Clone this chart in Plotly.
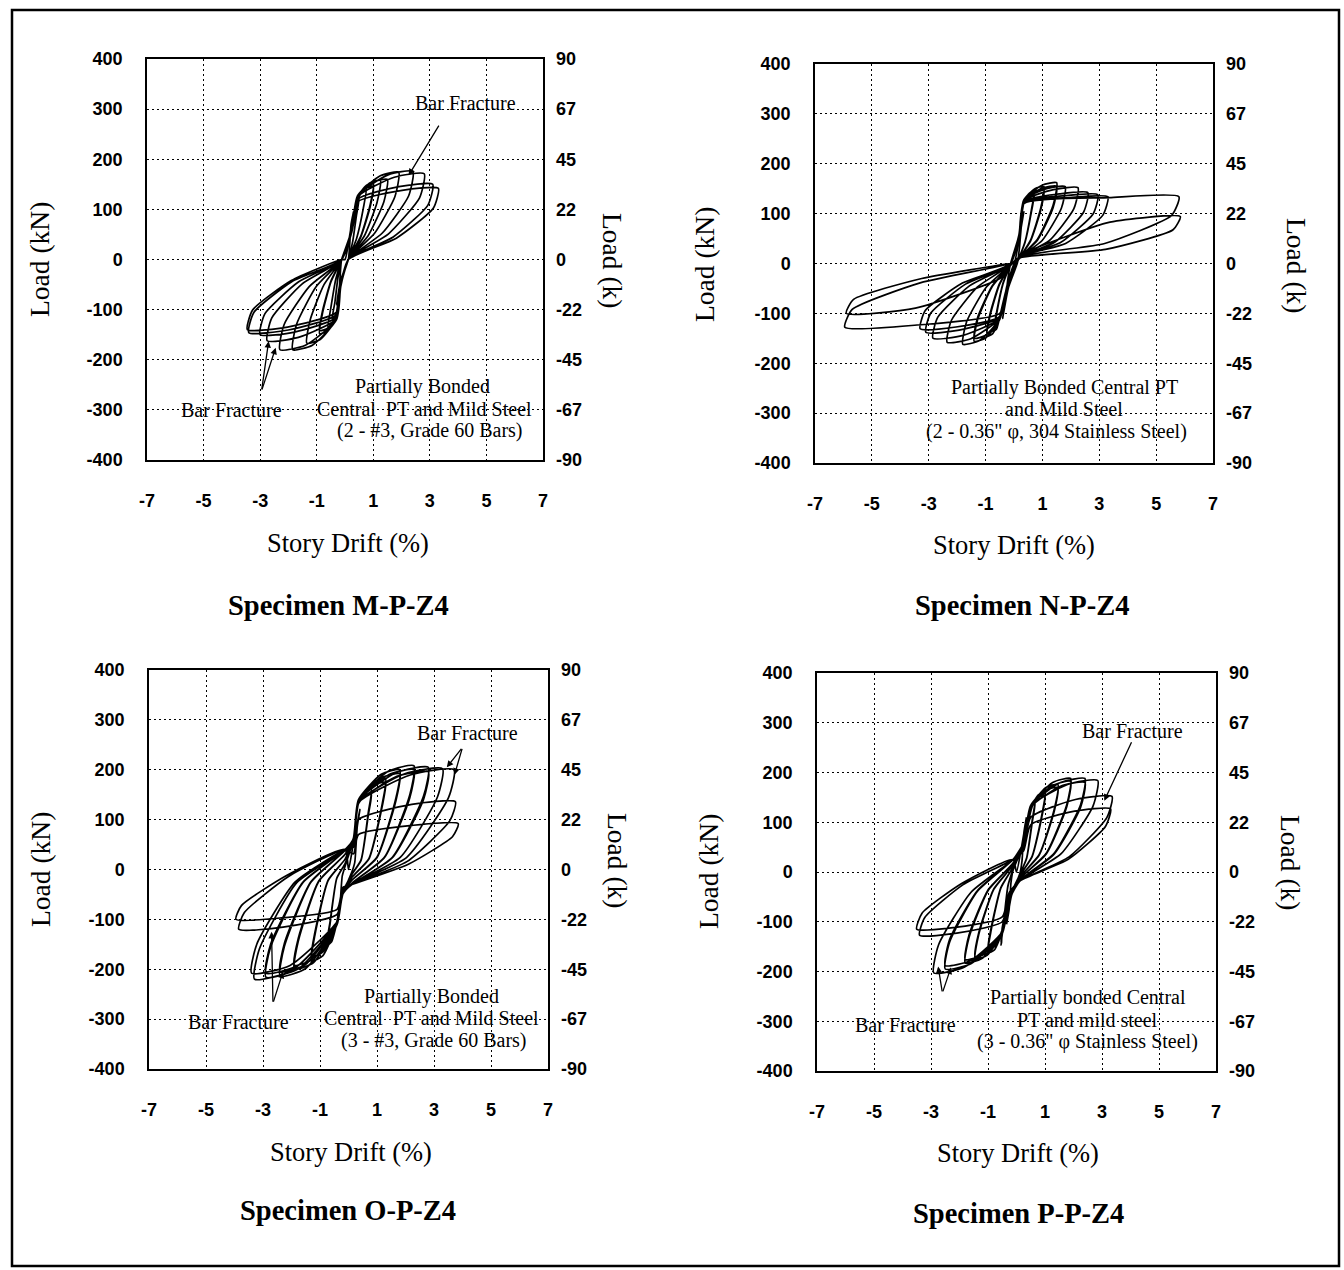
import plotly.graph_objects as go

# ---------------------------------------------------------------- data
DRIFT_TICKS = [-7, -5, -3, -1, 1, 3, 5, 7]
DRIFT_LABELS = ["-7", "-5", "-3", "-1", "1", "3", "5", "7"]
LOAD_TICKS = [-400, -300, -200, -100, 0, 100, 200, 300, 400]
LOAD_LABELS = ["-400", "-300", "-200", "-100", "0", "100", "200", "300", "400"]
KIP_LABELS = ["-90", "-67", "-45", "-22", "0", "22", "45", "67", "90"]

SPECIMENS = ["M-P-Z4", "N-P-Z4", "O-P-Z4", "P-P-Z4"]

# cycle peaks: story drift (%) and load (kN) for each half cycle,
# plus the load at the end of the stiff (gap-closing) branch
M_drift_pos = [0.3, 0.5, 0.75, 1.0, 1.0, 1.25, 1.5, 1.9, 2.4, 2.8, 3.1, 3.3]
M_load_pos = [95, 122, 142, 152, 146, 158, 160, 174, 176, 171, 150, 142]
M_knee_pos = [110, 115, 120, 125, 122, 126, 125, 128, 128, 125, 120, 115]
M_drift_neg = [-0.3, -0.45, -0.6, -0.9, -0.9, -1.35, -1.85, -2.3, -2.75, -3.0, -3.4, -3.45]
M_load_neg = [-90, -118, -135, -148, -142, -167, -180, -180, -162, -150, -146, -140]
M_knee_neg = [-100, -105, -112, -115, -112, -118, -120, -120, -118, -115, -110, -105]

N_drift_pos = [0.35, 0.7, 0.7, 1.05, 1.05, 1.5, 1.5, 1.8, 2.25, 2.6, 2.95, 3.3, 5.8, 5.85]
N_load_pos = [105, 144, 138, 154, 148, 162, 155, 154, 152, 142, 138, 134, 134, 94]
N_knee_pos = [115, 125, 122, 128, 125, 128, 126, 128, 126, 125, 124, 122, 120, 20]
N_drift_neg = [-0.4, -0.7, -0.7, -0.95, -0.95, -1.4, -1.4, -1.8, -2.35, -2.85, -3.1, -3.3, -5.95, -5.9]
N_load_neg = [-110, -135, -130, -146, -140, -156, -150, -162, -158, -150, -138, -131, -128, -100]
N_knee_neg = [-115, -108, -106, -110, -108, -112, -110, -112, -110, -110, -108, -106, -100, -30]

O_drift_pos = [0.4, 0.8, 0.8, 1.3, 1.3, 1.8, 1.8, 2.3, 2.3, 2.8, 2.8, 3.3, 3.7, 3.75, 3.85]
O_load_pos = [120, 160, 152, 182, 175, 200, 192, 208, 200, 205, 196, 202, 200, 136, 92]
O_knee_pos = [130, 135, 132, 138, 135, 140, 136, 140, 136, 138, 134, 136, 134, 100, 70]
O_drift_neg = [-0.4, -0.75, -0.75, -1.3, -1.3, -1.9, -1.9, -2.4, -2.4, -2.9, -2.9, -3.3, -3.4, -3.85, -3.95]
O_load_neg = [-110, -152, -146, -184, -176, -200, -192, -214, -205, -216, -208, -220, -208, -120, -100]
O_knee_neg = [-115, -105, -102, -108, -105, -110, -106, -110, -106, -108, -104, -106, -104, -90, -80]

P_drift_pos = [0.35, 0.65, 0.65, 1.0, 1.0, 1.45, 1.45, 1.9, 1.9, 2.4, 2.4, 2.85, 3.35, 3.3]
P_load_pos = [110, 144, 138, 160, 154, 176, 170, 188, 182, 188, 180, 184, 152, 127]
P_knee_pos = [115, 125, 122, 130, 127, 132, 130, 134, 130, 134, 130, 132, 110, 95]
P_drift_neg = [-0.35, -0.55, -0.55, -1.0, -1.0, -1.45, -1.45, -1.8, -1.8, -2.5, -2.5, -2.9, -3.4, -3.5]
P_load_neg = [-105, -147, -140, -163, -156, -175, -170, -183, -176, -195, -188, -203, -127, -115]
P_knee_neg = [-110, -115, -112, -120, -116, -122, -120, -124, -120, -124, -120, -122, -100, -90]

# drift at end of stiff branch (pos, neg), load where unloading returns near
# zero drift (pos, neg), and relative load half way down the unloading branch
M_shape = dict(knee_drift=(0.45, -0.3), zero_load=(0, 0), unload=0.3)
N_shape = dict(knee_drift=(0.35, -0.5), zero_load=(10, 0), unload=0.3)
O_shape = dict(knee_drift=(0.35, -0.4), zero_load=(-30, 40), unload=0.12)
P_shape = dict(knee_drift=(0.5, -0.5), zero_load=(-18, 25), unload=0.2)

NOTES = {
    "M-P-Z4": ["Partially Bonded", "Central  PT and Mild Steel", "(2 - #3, Grade 60 Bars)"],
    "N-P-Z4": ["Partially Bonded Central PT", "and Mild Steel", "(2 - 0.36\" \u03c6, 304 Stainless Steel)"],
    "O-P-Z4": ["Partially Bonded", "Central  PT and Mild Steel", "(3 - #3, Grade 60 Bars)"],
    "P-P-Z4": ["Partially bonded Central", "PT and mild steel", "(3 - 0.36\" \u03c6 Stainless Steel)"],
}
FRACTURE_LABEL = "Bar Fracture"

# ---------------------------------------------------------------- layout
W, H = 1344, 1270
SERIF = "Liberation Serif, Times New Roman, serif"
SANS = "Liberation Sans, Arial, sans-serif"


def fx(px):
    return px / W


def fy(py):
    return 1 - py / H


# plot areas in pixels: left, right, top, bottom
BOXES = [(147, 543, 59, 460), (815, 1213, 64, 463), (149, 548, 670, 1069), (817, 1216, 673, 1071)]

# title / axis-title anchor pixels per panel
TITLE_POS = [(338, 605), (1022, 605), (348, 1210), (1018, 1213)]
XTITLE_POS = [(348, 543), (1014, 545), (351, 1152), (1018, 1153)]
YTITLE_POS = [(40, 260), (705, 265), (40, 870), (708, 872)]
Y2TITLE_POS = [(612, 260), (1296, 265), (618, 860), (1290, 862)]

# note-line positions (drift, load) per panel
NOTE_POS = {
    "M-P-Z4": [(2.75, -254), (2.8, -298), (3.0, -342)],
    "N-P-Z4": [(1.76, -248), (1.76, -292), (1.5, -336)],
    "O-P-Z4": [(2.9, -254), (2.9, -298), (3.0, -342)],
    "P-P-Z4": [(2.5, -253), (2.5, -297), (2.5, -341)],
}
FRACTURE_TEXT_POS = {
    "M-P-Z4": [(4.27, 312), (-4.0, -300)],
    "N-P-Z4": [],
    "O-P-Z4": [(4.19, 273), (-3.87, -305)],
    "P-P-Z4": [(4.06, 283), (-3.9, -307)],
}
# arrows: head (drift, load) and tail (drift, load)
FRACTURE_ARROWS = {
    "M-P-Z4": [(2.25, 168, 3.35, 270), (-2.7, -163, -2.95, -262), (-2.45, -176, -2.95, -262)],
    "N-P-Z4": [],
    "O-P-Z4": [(3.72, 190, 4.0, 245), (3.45, 205, 4.0, 245),
               (-2.7, -125, -2.65, -268), (-2.3, -205, -2.65, -268)],
    "P-P-Z4": [(3.08, 143, 4.06, 264), (-2.3, -192, -2.6, -243), (-2.75, -190, -2.6, -243)],
}


def hysteresis(dpos, ppos, kpos, dneg, pneg, kneg, shape):
    """Chain the cycles into one continuous load-drift record."""
    kdp, kdn = shape["knee_drift"]
    zp, zn = shape["zero_load"]
    um = shape["unload"]
    pts = [(0.0, 0.0)]
    for dp, pp, kp, dn, pn, kn in zip(dpos, ppos, kpos, dneg, pneg, kneg):
        # push in the positive direction
        if pp > kp:
            pts += [(kdp * 0.5, kp * 0.45), (kdp, kp),
                    (kdp + 0.55 * (dp - kdp), kp + 0.85 * (pp - kp))]
        else:
            pts.append((min(kdp, dp) * 0.5, pp * 0.45))
        du = 0.08 + 0.03 * dp
        pts += [(dp, pp), (dp - du, 0.72 * pp), (0.55 * dp, um * pp),
                (0.12, zp * min(1.0, dp / 2.5))]
        # pull in the negative direction
        if pn < kn:
            pts += [(kdn * 0.5, kn * 0.45), (kdn, kn),
                    (kdn + 0.55 * (dn - kdn), kn + 0.85 * (pn - kn))]
        else:
            pts.append((max(kdn, dn) * 0.5, pn * 0.45))
        du = 0.08 + 0.03 * abs(dn)
        pts += [(dn, pn), (dn + du, 0.72 * pn), (0.55 * dn, um * pn),
                (-0.12, zn * min(1.0, abs(dn) / 2.5))]
    pts.append((0.0, 0.0))
    return [p[0] for p in pts], [p[1] for p in pts]


records = {
    "M-P-Z4": hysteresis(M_drift_pos, M_load_pos, M_knee_pos, M_drift_neg, M_load_neg, M_knee_neg, M_shape),
    "N-P-Z4": hysteresis(N_drift_pos, N_load_pos, N_knee_pos, N_drift_neg, N_load_neg, N_knee_neg, N_shape),
    "O-P-Z4": hysteresis(O_drift_pos, O_load_pos, O_knee_pos, O_drift_neg, O_load_neg, O_knee_neg, O_shape),
    "P-P-Z4": hysteresis(P_drift_pos, P_load_pos, P_knee_pos, P_drift_neg, P_load_neg, P_knee_neg, P_shape),
}

fig = go.Figure()
annotations = []
layout = dict(
    width=W, height=H, margin=dict(l=0, r=0, t=0, b=0, autoexpand=False),
    paper_bgcolor="white", plot_bgcolor="white", showlegend=False,
    hovermode=False,
)

tickfont = dict(family=SANS, size=18, color="black", weight="bold")
note_font = dict(family=SERIF, size=20, color="black")


def paper_text(px, py, text, size, bold=False, angle=0):
    return dict(x=fx(px), y=fy(py), xref="paper", yref="paper",
                xanchor="center", yanchor="middle", textangle=angle,
                text=f"<b>{text}</b>" if bold else text, showarrow=False,
                font=dict(family=SERIF, size=size, color="black"))


for i, name in enumerate(SPECIMENS):
    n = i + 1
    xa, ya, y2 = f"x{n}", f"y{n}", f"y{n + 4}"
    xk, yk, y2k = f"xaxis{n}", f"yaxis{n}", f"yaxis{n + 4}"
    l, r, t, b = BOXES[i]
    layout[xk] = dict(
        domain=[fx(l), fx(r)], anchor=ya, range=[-7, 7], automargin=False,
        tickvals=DRIFT_TICKS, ticktext=DRIFT_LABELS, ticks="",
        ticklabelstandoff=24, tickfont=tickfont,
        showgrid=True, gridcolor="black", gridwidth=1, griddash="2px,3px",
        zeroline=False, showline=True, linecolor="black", linewidth=1.5, mirror=True,
        fixedrange=True,
    )
    layout[yk] = dict(
        domain=[fy(b), fy(t)], anchor=xa, range=[-400, 400], automargin=False,
        tickvals=LOAD_TICKS, ticktext=LOAD_LABELS, ticks="",
        ticklabelstandoff=19, tickfont=tickfont,
        showgrid=True, gridcolor="black", gridwidth=1, griddash="2px,3px",
        zeroline=False, showline=True, linecolor="black", linewidth=1.5, mirror=True,
        fixedrange=True,
    )
    layout[y2k] = dict(
        overlaying=ya, anchor=xa, side="right", range=[-400, 400], automargin=False,
        tickvals=LOAD_TICKS, ticktext=KIP_LABELS, ticks="",
        ticklabelstandoff=12, tickfont=tickfont,
        showgrid=False, zeroline=False, showline=False, fixedrange=True,
    )

    xs, ys = records[name]
    fig.add_trace(go.Scatter(
        x=xs, y=ys, xaxis=xa, yaxis=ya, mode="lines",
        line=dict(color="black", width=1.7, shape="spline", smoothing=0.55),
        hoverinfo="skip",
    ))
    fig.add_trace(go.Scatter(x=[None], y=[None], xaxis=xa, yaxis=y2, mode="lines",
                             hoverinfo="skip"))

    annotations.append(paper_text(*TITLE_POS[i], f"Specimen {name}", 28.5, bold=True))
    annotations.append(paper_text(*XTITLE_POS[i], "Story Drift (%)", 26.5))
    annotations.append(paper_text(*YTITLE_POS[i], "Load (kN)", 27.5, angle=-90))
    annotations.append(paper_text(*Y2TITLE_POS[i], "Load (k)", 27.5, angle=90))

    # specimen description inside the plot
    for line, (dx, dy) in zip(NOTES[name], NOTE_POS[name]):
        annotations.append(dict(x=dx, y=dy, xref=xa, yref=ya, text=line, showarrow=False,
                                xanchor="center", yanchor="middle", font=note_font))
    for dx, dy in FRACTURE_TEXT_POS[name]:
        annotations.append(dict(x=dx, y=dy, xref=xa, yref=ya, text=FRACTURE_LABEL,
                                showarrow=False, xanchor="center", yanchor="middle",
                                font=note_font))
    for hx, hy, tx_, ty_ in FRACTURE_ARROWS[name]:
        annotations.append(dict(x=hx, y=hy, ax=tx_, ay=ty_, xref=xa, yref=ya,
                                axref=xa, ayref=ya, text="", showarrow=True,
                                arrowhead=2, arrowsize=1, arrowwidth=1.3,
                                arrowcolor="black"))

layout["annotations"] = annotations
layout["shapes"] = [dict(type="rect", xref="paper", yref="paper",
                         x0=fx(12), x1=fx(1339), y0=fy(1266), y1=fy(10),
                         line=dict(color="black", width=2.5))]
fig.update_layout(**layout)
fig.write_html("out.html")
